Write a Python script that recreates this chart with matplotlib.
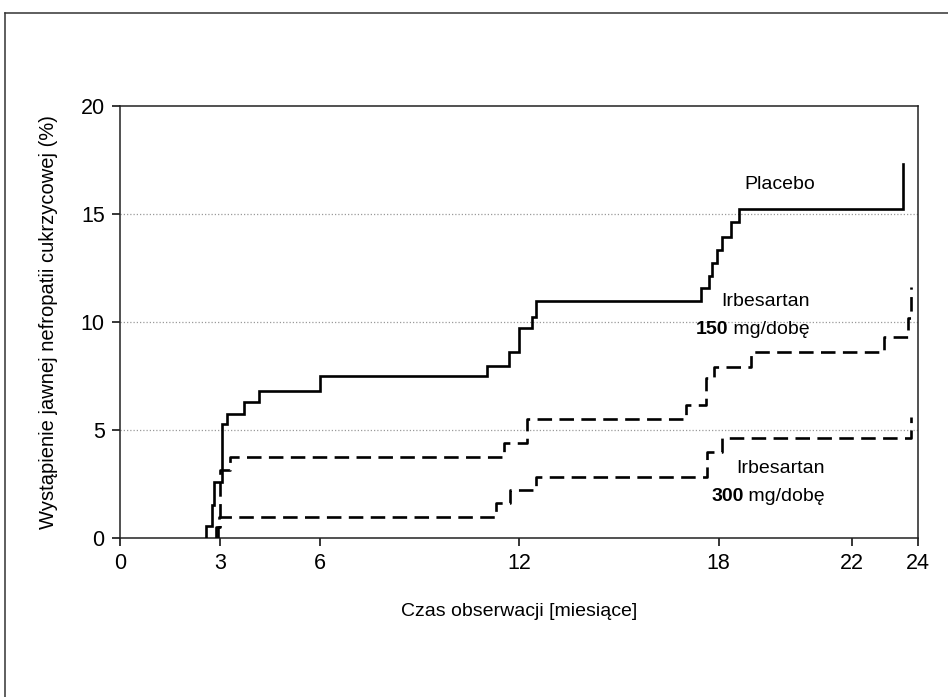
import matplotlib
matplotlib.use("Agg")
import matplotlib.pyplot as plt
from matplotlib.lines import Line2D

# ---- data (months, cumulative %) ----
placebo_t = [2.58, 2.78, 2.84, 3.06, 3.21, 3.73, 4.18, 6.0, 11.05, 11.7, 12.0, 12.38, 12.5,
             17.47, 17.71, 17.79, 17.96, 18.12, 18.37, 18.62, 23.54]
placebo_v = [0.55, 1.55, 2.6, 5.3, 5.75, 6.3, 6.8, 7.5, 7.96, 8.6, 9.74, 10.25, 10.95,
             11.57, 12.13, 12.73, 13.33, 13.93, 14.62, 15.25, 17.3]

irb150_t = [2.95, 3.0, 3.3, 11.55, 12.25, 17.01, 17.62, 17.87, 18.97, 22.98, 23.69, 23.79]
irb150_v = [0.5, 3.15, 3.75, 4.41, 5.52, 6.16, 7.39, 7.9, 8.63, 9.29, 10.2, 11.6]

irb300_t = [2.9, 2.97, 11.3, 11.73, 12.5, 17.64, 18.12, 23.78]
irb300_v = [0.5, 0.95, 1.6, 2.22, 2.84, 4.0, 4.65, 5.62]

x_ticks = [0, 3, 6, 12, 18, 22, 24]
y_ticks = [0, 5, 10, 15, 20]
grid_levels = [5, 10, 15]

x_label = "Czas obserwacji [miesiące]"
y_label = "Wystąpienie jawnej nefropatii cukrzycowej (%)"

plt.rcParams["font.family"] = ["Liberation Sans", "DejaVu Sans"]

fig = plt.figure(figsize=(9.48, 6.97), dpi=100)
ax = fig.add_axes([120/948, 1-538/697, (918-120)/948, (538-106)/697])

def curve(t, v):
    xs = [t[0]] + list(t)
    ys = [0] + list(v)
    return xs, ys

xs, ys = curve(placebo_t, placebo_v)
ax.step(xs, ys, where="post", color="black", lw=1.9, solid_joinstyle="miter", zorder=3)

for t, v in ((irb150_t, irb150_v), (irb300_t, irb300_v)):
    xs, ys = curve(t, v)
    ln, = ax.step(xs, ys, where="post", color="black", lw=1.9, zorder=3)
    ln.set_dashes([5.5, 2.8])

for g in grid_levels:
    ax.axhline(g, color="#9a9a9a", lw=0.9, linestyle=(0, (1, 1.6)), zorder=1)

ax.set_xlim(0, 24)
ax.set_ylim(0, 20)
ax.set_xticks(x_ticks)
ax.set_yticks(y_ticks)
ax.tick_params(direction="out", length=6, width=1.1, labelsize=15.5, pad=5, color="black")
for s in ax.spines.values():
    s.set_linewidth(1.1)
    s.set_color("#222222")

ax.set_xlabel(x_label, fontsize=14, labelpad=21)
ax.set_ylabel(y_label, fontsize=14.5, labelpad=16)

fs = 14
ax.text(19.85, 16.35, "Placebo", fontsize=fs, ha="center", va="center")
ax.text(19.4, 10.95, "Irbesartan", fontsize=fs, ha="center", va="center")
ax.text(18.3, 9.65, "150", fontsize=fs, ha="right", va="center", fontweight="bold")
ax.text(18.3, 9.65, " mg/dobę", fontsize=fs, ha="left", va="center")
ax.text(19.85, 3.2, "Irbesartan", fontsize=fs, ha="center", va="center")
ax.text(18.75, 1.9, "300", fontsize=fs, ha="right", va="center", fontweight="bold")
ax.text(18.75, 1.9, " mg/dobę", fontsize=fs, ha="left", va="center")

# outer frame (left and top edges)
x0 = 5/948
y0 = 1 - 13/697
fig.add_artist(Line2D([x0, x0], [0, y0], transform=fig.transFigure, color="#333333", lw=1.1))
fig.add_artist(Line2D([x0, 1], [y0, y0], transform=fig.transFigure, color="#333333", lw=1.1))

fig.savefig("out.png", dpi=100)
